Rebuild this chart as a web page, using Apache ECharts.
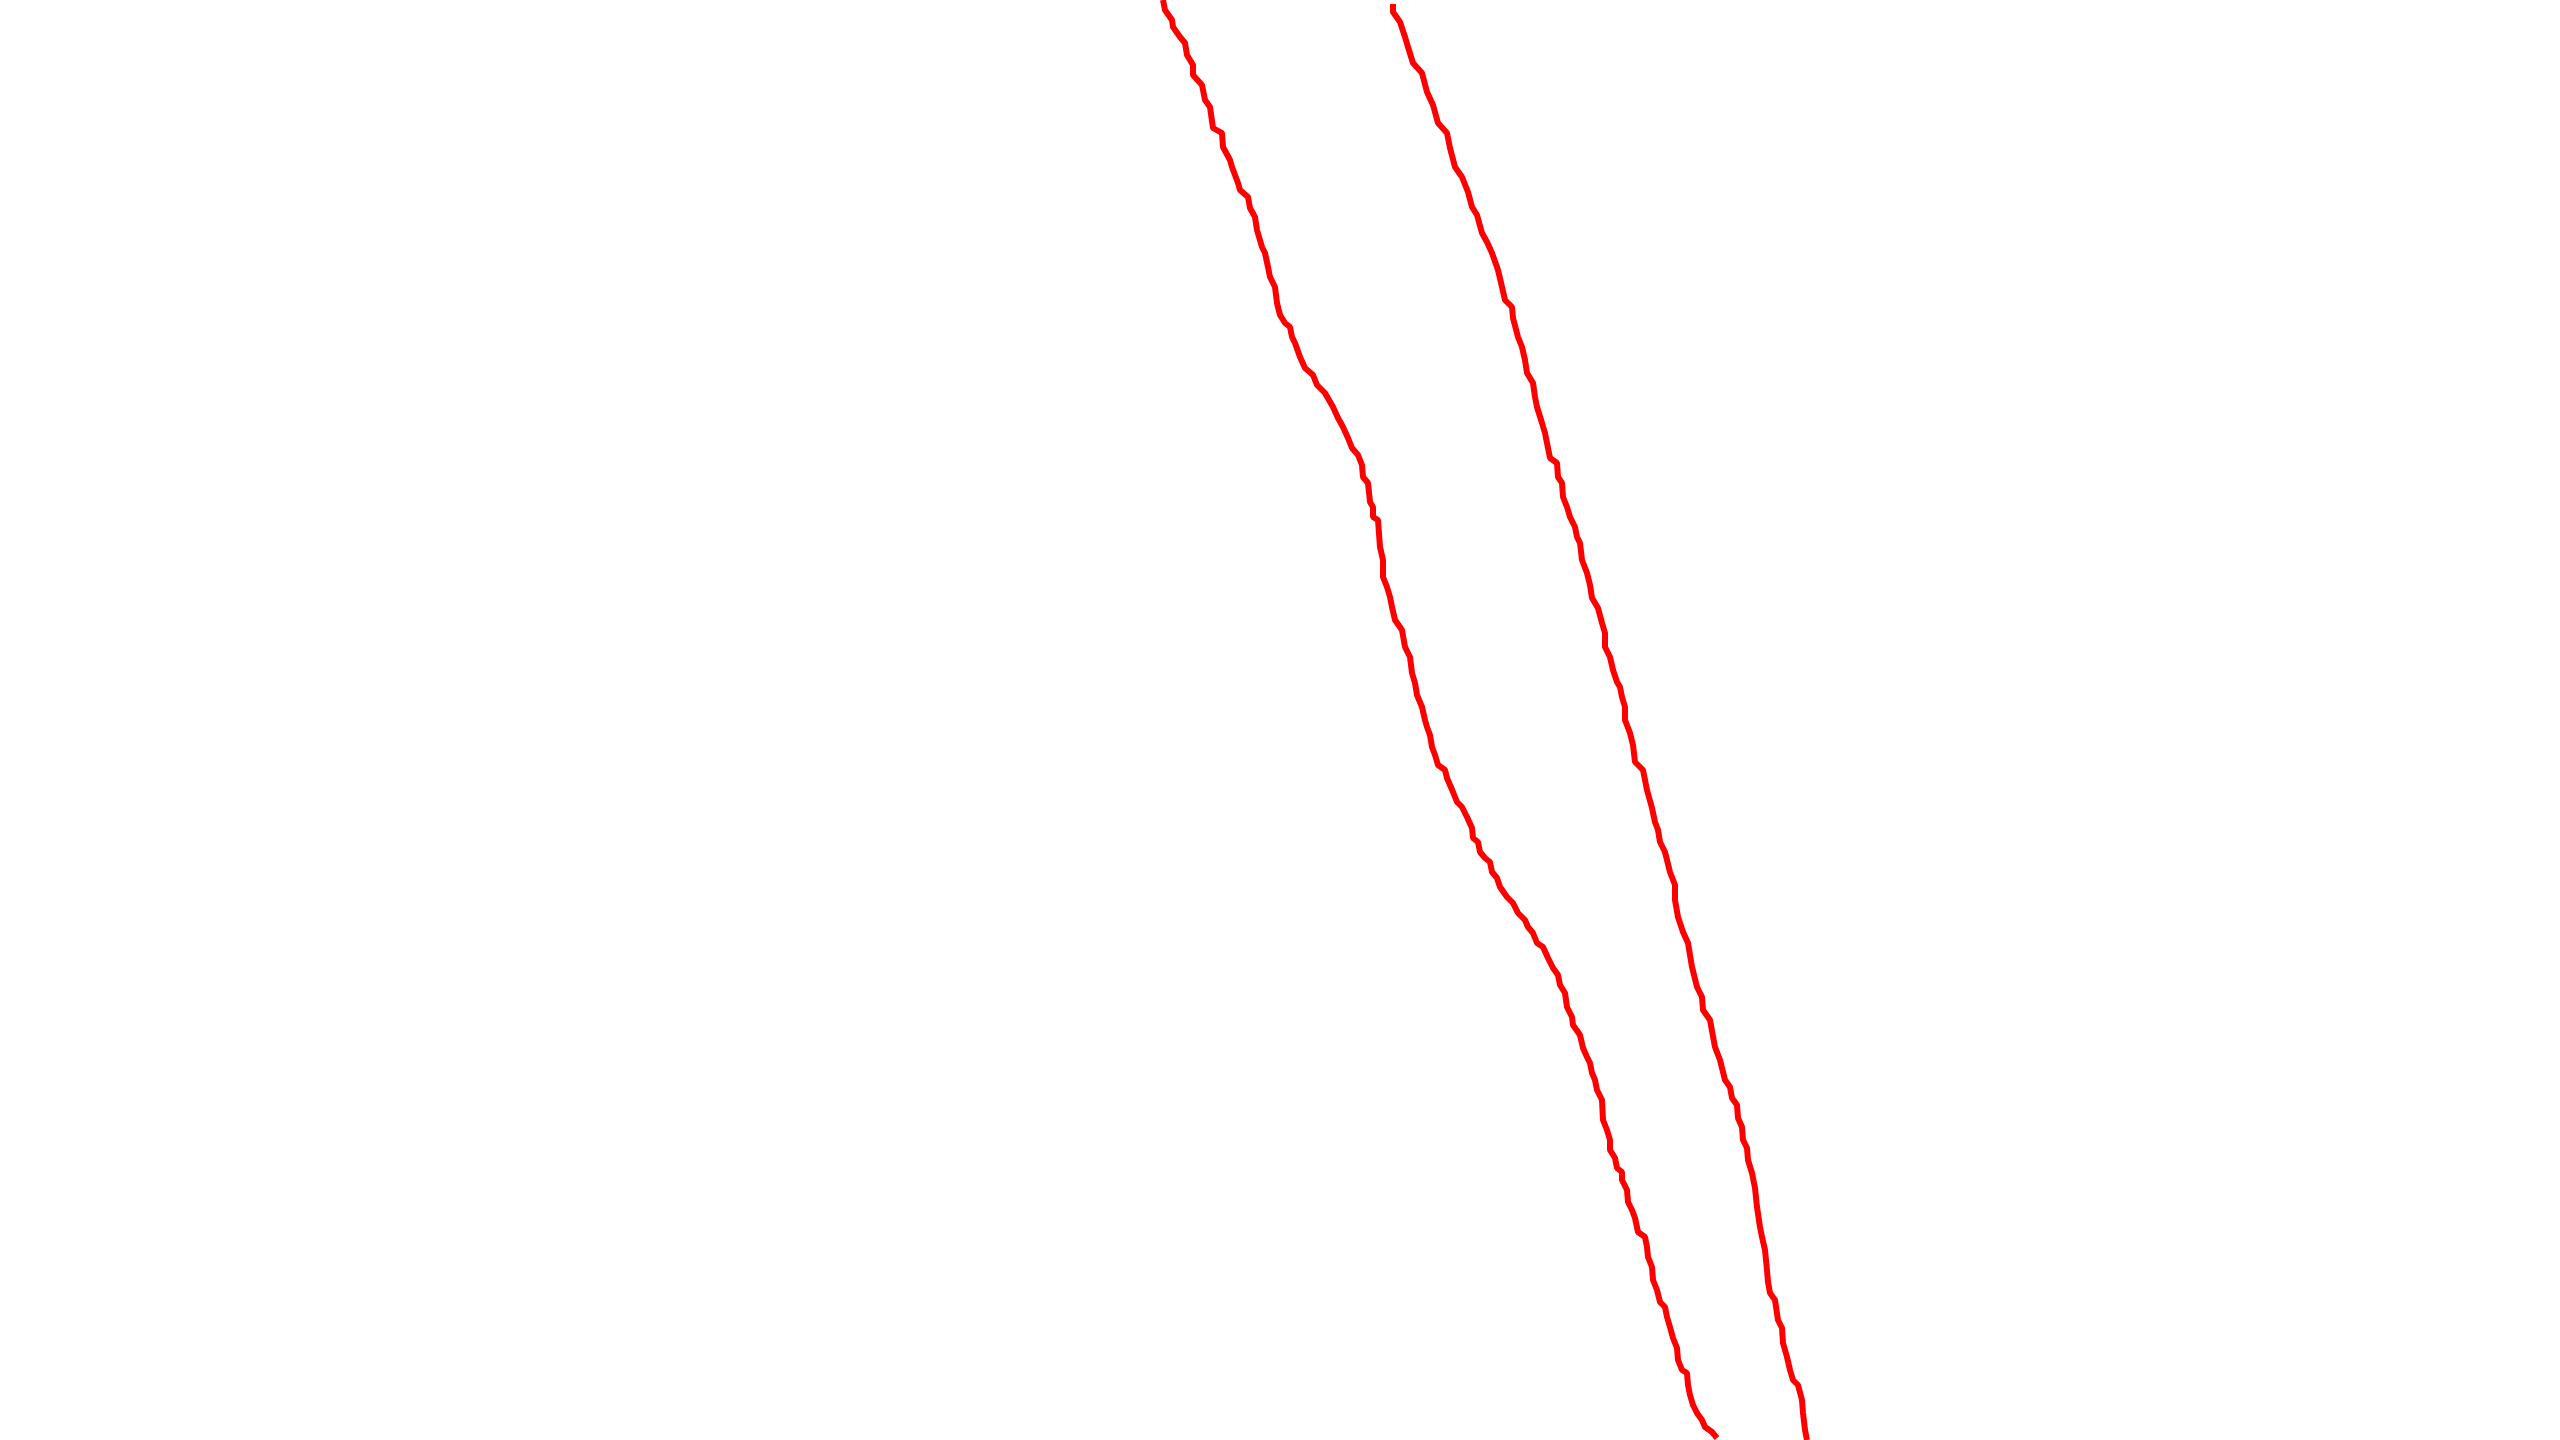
<!DOCTYPE html>
<html>
<head>
<meta charset="utf-8">
<script src="https://cdn.jsdelivr.net/npm/echarts@6/dist/echarts.min.js"></script>
<style>
html,body{margin:0;padding:0;background:#fff;}
#chart{width:2560px;height:1440px;}
</style>
</head>
<body>
<div id="chart"></div>
<script>
// Track A (left line): x values and y values
var trackAX = [1163,1165,1172,1173,1180,1185,1187,1193,1193,1202,1205,1210,1213,1222,1223,1230,1232,1238,1240,1248,1250,1255,1257,1262,1265,1268,1270,1275,1277,1280,1285,1290,1292,1295,1300,
1305,1313,1317,1325,1333,1338,1343,1348,1352,1358,1362,1363,1368,1370,1373,1373,1378,1380,1383,1383,1387,1390,1392,1395,1402,1405,1410,1412,1415,1417,1422,1425,
1427,1430,1432,1435,1438,1445,1447,1450,1453,1457,1462,1467,1472,1473,1478,1480,1485,1490,1492,1497,1500,1507,1513,1518,1525,1528,1533,1537,1543,1548,1553,1558,1560,1565,1567,1572,1573,1580,1583,1587,1590,1592,1595,
1597,1602,1603,1607,1610,1610,1615,1617,1622,1622,1627,1628,1632,1635,1638,1645,1647,1648,1652,1653,1657,1660,1665,1667,1670,1673,1677,1678,1682,1687,1688,1690,1693,1697,1702,1705,1712,1717];
var trackAY = [0,10,20,27,37,43,55,65,75,85,100,107,128,133,147,160,167,183,190,197,208,217,230,247,253,267,277,287,303,315,323,327,337,343,357,
368,375,385,393,407,418,427,438,448,455,465,477,483,502,507,517,520,547,560,577,587,597,607,620,630,647,657,673,683,695,707,720,
727,735,747,755,765,770,778,785,792,802,807,817,828,838,842,852,858,862,872,878,887,897,903,913,920,927,933,943,947,958,968,975,985,993,1007,1017,1025,1035,1048,1057,1063,1073,1080,
1090,1100,1120,1130,1140,1150,1158,1168,1172,1180,1190,1202,1210,1218,1232,1237,1247,1257,1267,1280,1290,1302,1307,1317,1327,1338,1348,1360,1370,1373,1385,1395,1405,1413,1420,1427,1432,1438];

// Track B (right line): x values and y values
var trackBX = [1393,1393,1400,1405,1408,1413,1422,1427,1433,1438,1447,1450,1455,1462,1468,1472,1477,1482,1487,1492,1498,1502,1505,1512,1513,1518,1522,1525,
1527,1533,1535,1537,1542,1545,1548,1550,1557,1558,1562,1563,1567,1570,1575,1577,1580,1582,1587,1590,1592,1598,1602,1605,1605,1610,1613,1617,1620,1622,1625,1625,
1630,1633,1635,1643,1647,1652,1655,1658,1660,1665,1670,1675,1675,1678,1683,1688,1692,1697,1702,1703,1710,1715,1720,1725,
1730,1732,1737,1738,1742,1743,1747,1748,1752,1755,1757,1760,1762,1765,1767,1768,1770,1775,1778,1782,1783,1787,1790,1793,1798,1802,1803,1805,1807];
var trackBY = [4,12,22,37,47,63,73,92,105,123,133,148,167,177,192,207,215,233,242,253,270,287,300,307,318,337,347,360,
373,383,397,407,423,433,448,458,463,477,483,497,507,517,527,537,543,560,573,585,598,608,623,633,647,657,670,682,687,697,707,720,
733,745,762,770,790,808,822,830,842,852,872,885,900,917,932,943,967,987,997,1010,1020,1047,1060,1080,
1087,1098,1105,1118,1127,1140,1148,1160,1173,1188,1207,1227,1237,1250,1270,1282,1293,1300,1320,1328,1343,1357,1370,1380,1385,1400,1413,1430,1440];

function zip(xs, ys) {
  var out = [];
  for (var i = 0; i < xs.length; i++) out.push([xs[i], ys[i]]);
  return out;
}

var chart = echarts.init(document.getElementById('chart'), null, {renderer: 'canvas'});
chart.setOption({
  backgroundColor: '#ffffff',
  animation: false,
  grid: {left: 0, right: 0, top: 0, bottom: 0},
  xAxis: {type: 'value', min: 0, max: 2560, show: false},
  yAxis: {type: 'value', min: 0, max: 1440, inverse: true, show: false},
  series: [
    {
      type: 'line',
      data: zip(trackAX, trackAY),
      symbol: 'none',
      lineStyle: {color: '#ff0000', width: 6},
      clip: false
    },
    {
      type: 'line',
      data: zip(trackBX, trackBY),
      symbol: 'none',
      lineStyle: {color: '#ff0000', width: 6},
      clip: false
    }
  ]
});
</script>
</body>
</html>
